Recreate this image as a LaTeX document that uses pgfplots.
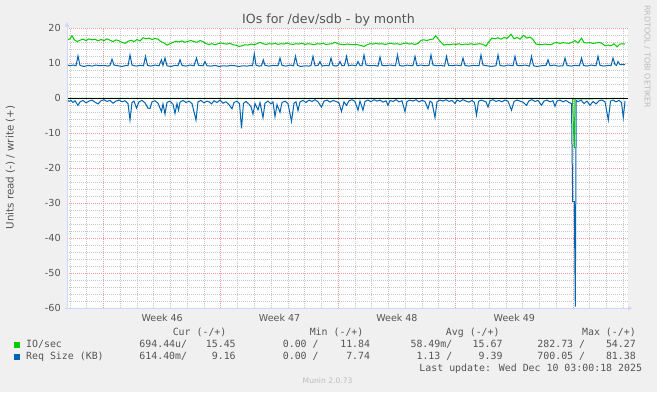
\documentclass[border=0pt]{standalone}
\usepackage{fontspec}
\setmainfont{DejaVu Sans}
\newfontfamily\monof{DejaVu Sans Mono}
\usepackage{pgfplots}
\pgfplotsset{compat=1.18}
\usetikzlibrary{arrows.meta}
\definecolor{bgc}{HTML}{F0F0F0}
\definecolor{fontc}{HTML}{555555}
\definecolor{axc}{HTML}{CFD6F8}
\definecolor{gridc}{HTML}{C8C8C8}
\definecolor{mgridc}{HTML}{EC9A9A}
\definecolor{gr}{HTML}{00CC00}
\definecolor{bl}{HTML}{0066B3}
\definecolor{wm}{HTML}{BDBDBD}
\begin{document}
\begin{tikzpicture}[x=1pt,y=1pt]
\path[use as bounding box] (0,0) rectangle (657,392);
\fill[bgc] (0,0) rectangle (657,392);
\begin{axis}[
  at={(67pt,83.7pt)}, anchor=south west, scale only axis,
  width=561pt, height=280pt,
  xmin=67, xmax=628, ymin=-60, ymax=20,
  axis line style={draw=none},
  axis background/.style={fill=white},
  clip=false,
  xtick={103.5,220.875,338.25,455.625,573},
  xticklabels={},
  minor xtick={70,86.73,120.27,137.04,153.80,170.57,187.34,204.11,237.64,254.41,271.18,287.95,304.71,321.48,355.02,371.79,388.55,405.32,422.09,438.86,472.39,489.16,505.93,522.70,539.46,556.23,589.77,606.54,623.30},
  extra x ticks={162.19,279.56,396.94,514.31},
  extra x tick labels={Week 46,Week 47,Week 48,Week 49},
  extra x tick style={grid=none},
  ytick={-60,-50,-40,-30,-20,-10,0,10,20},
  yticklabels={-60,-50,-40,-30,-20,-10,0,10,20},
  minor ytick={-58,-56,-54,-52,-48,-46,-44,-42,-38,-36,-34,-32,-28,-26,-24,-22,-18,-16,-14,-12,-8,-6,-4,-2,2,4,6,8,12,14,16,18},
  grid=both,
  major grid style={mgridc, dash pattern=on 1pt off 1pt, line width=0.8pt},
  minor grid style={gridc, dash pattern=on 1pt off 1pt, line width=0.8pt},
  major tick length=0pt, minor tick length=0pt,
  tick style={draw=none},
  yticklabel style={font=\fontsize{9.7}{10}\selectfont, text=fontc, inner sep=0pt, xshift=-6pt},
  xticklabel style={font=\fontsize{9.5}{10}\selectfont, text=fontc, inner sep=0pt, yshift=-5.6pt},
]
% green read (negative)
\addplot[gr, line width=1pt] coordinates {(67,0) (572.5,0) (573.3,-7.1) (574.3,-14.3) (575,-0.2) (625,0)};
% green write
\addplot[gr, line width=1pt] coordinates {
(67,16.6) (70,17.0) (72,17.9) (74,16.8) (77,16.2) (80,16.6) (83,16.9) (86,16.5) (89,17.0) (92,16.7)
(95,16.9) (98,16.4) (101,16.8) (104,16.5) (107,17.0) (110,16.6) (113,16.2) (116,16.7) (119,16.4) (122,16.0)
(125,15.7) (128,16.3) (131,16.6) (134,16.2) (137,16.8) (140,16.4) (143,17.3) (146,17.0) (149,17.2) (152,16.8)
(155,17.1) (158,16.9) (161,16.2) (164,15.8) (167,15.2) (170,15.6) (173,16.0) (176,16.3) (179,16.1) (182,16.4)
(185,16.0) (188,16.3) (191,16.5) (194,16.2) (197,16.0) (200,16.5) (203,16.2) (206,15.6) (209,15.4) (212,15.6)
(215,15.3) (218,15.6) (221,15.8) (224,15.6) (227,15.5) (230,15.7) (233,15.3) (236,15.2) (239,14.8) (242,15.0)
(245,15.3) (248,15.2) (251,15.5) (254,15.3) (257,15.6) (260,16.0) (263,15.6) (266,15.4) (269,15.6) (272,15.5)
(275,15.7) (278,15.4) (281,15.6) (284,15.5) (287,15.8) (290,15.5) (293,15.4) (296,15.6) (299,15.5) (302,15.7)
(305,15.4) (308,15.6) (311,15.5) (314,15.3) (317,15.6) (320,15.5) (323,15.7) (326,15.4) (329,15.5) (332,15.6)
(335,16.0) (338,15.6) (341,15.4) (344,15.3) (347,15.5) (350,15.4) (353,15.3) (356,15.4) (359,15.2) (362,15.0)
(364,14.8) (367,15.3) (370,15.6) (373,15.5) (376,15.7) (379,15.5) (382,15.6) (385,15.4) (388,15.6) (391,15.7)
(394,15.5) (397,15.6) (400,15.4) (403,15.6) (406,15.8) (409,15.5) (412,15.6) (415,15.4) (418,15.7) (421,16.6)
(424,16.7) (427,16.5) (430,16.8) (433,16.9) (435.5,17.9) (438,17.0) (441,16.0) (444,15.2) (447,15.4) (450,15.3)
(453,15.5) (456,15.4) (459,15.6) (462,15.3) (465,15.5) (468,15.4) (471,15.6) (474,15.4) (477,15.5) (480,15.6)
(483,15.4) (486,14.9) (489,16.2) (492,17.2) (495,17.0) (498,17.3) (501,16.9) (504,17.4) (507,17.1) (511,18.3)
(514,17.0) (517,17.4) (520,16.9) (523.5,18.0) (527,17.2) (530,17.5) (533,16.8) (536,15.5) (539,15.4) (542,15.3)
(545,15.5) (548,15.4) (551,15.3) (554,15.8) (557,15.9) (560,15.7) (563,15.9) (566,15.8) (569,15.7) (572,16.0)
(575,16.5) (578,15.8) (581.5,17.2) (584,15.9) (587,15.8) (590,15.9) (593,15.7) (596,15.8) (599,16.0) (602,15.7)
(605,15.0) (608,15.2) (611,15.0) (614,15.6) (617,14.7) (620,15.5) (623,15.6) (625,15.5)};
% blue read (negative)
\addplot[bl, line width=1pt] coordinates {
(67,-0.4) (69,-0.9) (71,-0.6) (73,-1.2) (75,-0.7) (78,-2.0) (80,-1.0) (83,-0.6) (86,-1.3) (89,-0.8)
(92,-0.5) (95,-1.1) (98,-1.6) (101,-0.7) (104,-0.4) (107,-0.9) (110,-0.6) (113,-1.4) (116,-0.8) (119,-0.5)
(122,-1.0) (125,-0.7) (128,-1.5) (130,-6.2) (132,-1.2) (134,-0.8) (136.5,-2.8) (139,-1.0) (142,-0.6) (145,-1.3)
(148,-2.8) (150,-2.9) (152,-1.0) (155,-0.7) (158,-1.4) (161.5,-3.8) (163,-1.6) (165,-4.5) (167,-1.2) (170,-0.8)
(173,-1.7) (175,-4.3) (177,-1.5) (178.5,-3.4) (180,-1.1) (183,-0.6) (186,-1.2) (189,-0.8) (192,-1.5) (196,-6.2)
(198,-1.0) (201,-0.6) (204,-1.3) (207,-0.8) (209.5,-1.1) (211.5,-1.6) (214,-0.7) (217,-1.2) (220,-0.5) (223,-1.4)
(226,-1.0) (229,-1.8) (232,-3.0) (234,-1.2) (237,-0.8) (239.5,-1.5) (241.5,-8.6) (243.5,-1.4) (246,-0.9) (249,-1.7)
(251,-2.4) (253,-4.5) (255,-1.5) (258,-3.3) (260,-1.2) (263,-5.5) (265,-1.4) (268,-0.8) (271,-1.6) (273,-1.0)
(275,-5.2) (277,-1.8) (280,-4.0) (282,-1.2) (285,-0.8) (288,-1.5) (291.5,-6.6) (294,-1.4) (296,-1.0) (298,-3.5)
(300,-1.0) (303,-0.6) (306,-1.2) (309,-0.5) (312,-0.9) (315,-0.4) (318,-1.0) (321.5,-2.5) (324,-0.8) (327,-0.5)
(330,-1.1) (333,-0.6) (336,-0.9) (339,-1.3) (341.5,-3.8) (344,-1.0) (346.5,-2.0) (349,-0.7) (352,-0.4) (355,-0.9)
(358,-3.4) (360,-0.8) (363,-3.4) (365,-0.9) (368,-0.5) (371,-1.0) (374,-0.4) (377,-0.8) (380,-0.5) (383,-1.1)
(386,-0.7) (388,-2.0) (390,-0.6) (393,-0.9) (396,-0.4) (399,-1.0) (402,-0.7) (405,-3.8) (407,-0.9) (410,-0.5)
(413,-0.8) (416,-0.4) (419,-1.0) (422,-0.6) (425,-0.9) (428,-3.0) (430,-0.8) (432,-1.2) (435,-5.5) (437,-1.0)
(440,-0.5) (443,-0.8) (446,-0.4) (449,-0.9) (452,-0.6) (455,-1.5) (457,-0.5) (460,-0.9) (463,-0.4) (466,-0.8)
(469,-1.1) (472,-0.6) (474.5,-1.2) (476.5,-4.8) (478.5,-0.9) (481,-0.5) (484,-0.8) (486,-1.0) (488,-2.5) (490,-0.7)
(493,-0.4) (496,-0.9) (499,-0.6) (502,-1.0) (505,-0.5) (508,-0.8) (511.5,-3.4) (514,-0.9) (517,-0.5) (520,-0.8)
(523,-1.1) (526.5,-2.0) (529,-0.7) (532,-0.4) (535,-0.9) (538,-0.6) (541.5,-2.0) (544,-0.8) (547,-0.5) (550,-1.0)
(553,-0.7) (555,-2.3) (557,-0.8) (560,-0.5) (563,-1.0) (566,-0.6) (569,-1.2) (571.5,-1.5) (572.7,-29.5) (574.3,-29.5)
(575.3,-59.5) (576.2,-0.6) (578,-1.0) (581,-0.5) (584,-1.5) (587,-0.8) (590,-2.0) (593,-0.9) (596,-1.6) (599,-0.7)
(602,-0.5) (605,-1.0) (608.3,-6.2) (610.5,-0.8) (613,-0.5) (616,-1.0) (619,-0.6) (621.5,-1.2) (623.3,-5.5) (625,-0.8)};
% blue write
\addplot[bl, line width=1pt] coordinates {
(67,9.6) (70,9.3) (73,9.5) (76,9.3) (78,12.1) (80,9.4) (84,9.1) (88,9.4) (92,9.2) (96,9.5)
(100,9.3) (104,9.4) (108,9.2) (110,9.4) (112,11.2) (114,9.5) (118,9.3) (122,9.1) (126,9.4) (128,9.3)
(130,12.4) (132,9.5) (136,9.2) (140,9.4) (143.5,9.3) (145.5,12.0) (147.5,9.4) (151,9.2) (155,9.5) (159,9.3)
(161.5,11.0) (163,9.4) (165,11.5) (167,9.3) (171,9.1) (175,9.4) (178,9.3) (180,11.0) (182,9.4) (186,9.2)
(190,9.5) (194,9.3) (196.5,11.5) (198.5,9.4) (203,9.3) (205,10.5) (207,9.3) (211,9.2) (215,9.4) (219,9.1)
(223,9.3) (227,9.2) (231,9.4) (235,9.3) (239,9.1) (243,9.3) (247,9.2) (251,9.4) (252.5,9.3) (254.3,12.7)
(256,9.5) (259,9.2) (261.5,9.3) (263.3,11.0) (265,9.4) (269,9.2) (273,9.4) (278,9.3) (280,11.5) (282,9.4)
(286,9.2) (290,9.5) (293.5,9.3) (295.5,12.0) (297.5,9.4) (301,9.1) (305,9.3) (309,9.2) (311,9.4) (313,12.0)
(315,9.3) (318,9.4) (320,10.5) (322,9.2) (326,9.4) (329,9.3) (331,11.5) (333,9.4) (336,9.2) (338,9.4)
(340,10.5) (342,9.3) (344.5,9.4) (346.5,12.0) (348.5,9.3) (352,9.5) (356,9.3) (358,10.5) (360,9.4) (362,9.3)
(364,12.4) (366,9.5) (370,9.3) (374,9.4) (378,9.2) (380,11.8) (382,9.4) (386,9.3) (390,9.5) (395.5,9.3)
(397.5,12.4) (399.5,9.4) (403,9.2) (407,9.5) (411,9.3) (413,9.4) (415,12.0) (417,9.3) (421,9.5) (425,9.3)
(429,9.4) (431,12.4) (433,9.5) (437,9.3) (441,9.4) (444.5,9.2) (446.5,12.0) (448.5,9.4) (452,9.3) (456,9.5)
(461,9.3) (463,11.5) (465,9.4) (469,9.2) (473,9.4) (479,9.3) (481,12.4) (483,9.5) (487,9.3) (491,9.1)
(496,9.3) (498,12.4) (500,9.4) (504,9.2) (508,9.5) (513,9.3) (515,12.0) (517,9.4) (521,9.3) (525,9.5)
(529.5,9.2) (531.5,12.0) (533.5,9.3) (537,9.1) (541,9.3) (546,9.4) (548,11.0) (550,9.3) (554,9.5) (558,9.2)
(563,9.3) (565,11.5) (567,9.4) (571,9.2) (575,9.4) (579.5,9.3) (581.5,11.5) (583.5,9.4) (587,9.2) (591,9.5)
(596,9.3) (598,12.0) (600,9.4) (604,9.2) (608,9.4) (611,9.3) (613,11.5) (615,9.6) (616.5,9.4) (618,10.5)
(620,9.6) (623,9.7) (625,9.6)};
% zero line
\addplot[black, line width=1pt] coordinates {(67,0) (628,0)};
% axes with arrows
\draw[axc, line width=1pt, -{Latex[length=5pt,width=5pt]}] (axis cs:67,-60.3) -- (axis cs:67,21.9);
\draw[axc, line width=1pt, -{Latex[length=5pt,width=5pt]}] (axis cs:65,-60) -- (axis cs:633,-60);
\end{axis}
% title
\node[anchor=base, text=fontc, font=\fontsize{12.6}{13}\selectfont, inner sep=0pt] at (328.5,368) {IOs for /dev/sdb - by month};
% y label
\node[rotate=90, text=fontc, font=\fontsize{10.3}{11}\selectfont, inner sep=0pt] at (10.5,224.5) {Units read (-) / write (+)};
% watermark
\node[rotate=-90, anchor=west, text=wm, font=\fontsize{8}{9}\selectfont, inner sep=0pt] at (647.3,387) {RRDTOOL / TOBI OETIKER};
% legend
\begin{scope}[every node/.style={inner sep=0pt, text=fontc, font=\monof\fontsize{9.9}{10}\selectfont}]
\node[anchor=mid east] at (226.6,59.5) {Cur (-/+)};
\node[anchor=mid east] at (363.6,59.5) {Min (-/+)};
\node[anchor=mid east] at (499.8,59.5) {Avg (-/+)};
\node[anchor=mid east] at (636,59.5) {Max (-/+)};
\fill[gr] (14,44.3) rectangle (20,50.3);
\fill[bl] (14,32.3) rectangle (20,38.3);
\node[anchor=mid west] at (26,47.3) {IO/sec};
\node[anchor=mid west] at (26,35.3) {Req Size (KB)};
\node[anchor=mid east] at (187.3,47.3) {694.44u/};
\node[anchor=mid east] at (235.9,47.3) {15.45};
\node[anchor=mid east] at (318.8,47.3) {0.00 /};
\node[anchor=mid east] at (370.3,47.3) {11.84};
\node[anchor=mid east] at (452.5,47.3) {58.49m/};
\node[anchor=mid east] at (502.7,47.3) {15.67};
\node[anchor=mid east] at (585.3,47.3) {282.73 /};
\node[anchor=mid east] at (636,47.3) {54.27};
\node[anchor=mid east] at (187.3,35.3) {614.40m/};
\node[anchor=mid east] at (235.9,35.3) {9.16};
\node[anchor=mid east] at (318.8,35.3) {0.00 /};
\node[anchor=mid east] at (370.3,35.3) {7.74};
\node[anchor=mid east] at (452.5,35.3) {1.13 /};
\node[anchor=mid east] at (502.7,35.3) {9.39};
\node[anchor=mid east] at (585.3,35.3) {700.05 /};
\node[anchor=mid east] at (636,35.3) {81.38};
\node[anchor=mid east] at (642.2,23) {Last update: Wed Dec 10 03:00:18 2025};
\end{scope}
\node[text=wm, font=\fontsize{7.6}{8}\selectfont, inner sep=0pt] at (327.6,11) {Munin 2.0.73};
\end{tikzpicture}
\end{document}
